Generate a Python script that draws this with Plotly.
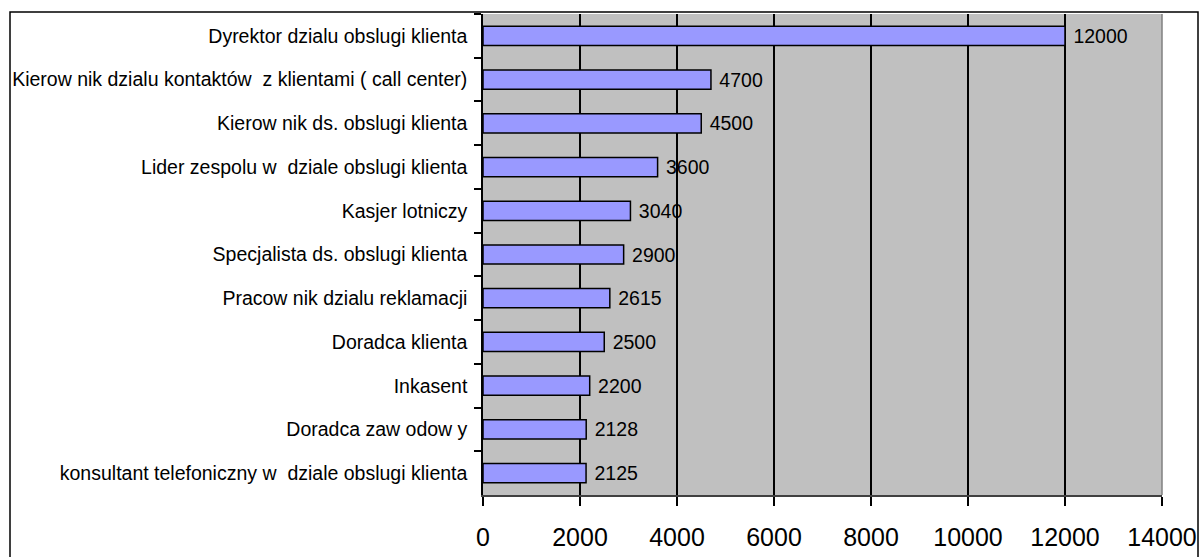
import plotly.graph_objects as go

categories = [
    "Dyrektor dzialu obslugi klienta",
    "Kierow nik dzialu kontaktów  z klientami ( call center)",
    "Kierow nik ds. obslugi klienta",
    "Lider zespolu w  dziale obslugi klienta",
    "Kasjer lotniczy",
    "Specjalista ds. obslugi klienta",
    "Pracow nik dzialu reklamacji",
    "Doradca klienta",
    "Inkasent",
    "Doradca zaw odow y",
    "konsultant telefoniczny w  dziale obslugi klienta",
]
values = [12000, 4700, 4500, 3600, 3040, 2900, 2615, 2500, 2200, 2128, 2125]
x_ticks = [0, 2000, 4000, 6000, 8000, 10000, 12000, 14000]

W, H = 1200, 557
L, R, T, B = 483, 1162, 14, 495

fig = go.Figure(go.Bar(
    y=categories, x=values, orientation="h",
    marker=dict(color="#9999FF", line=dict(color="black", width=1.5)),
    text=[" " + str(v) for v in values], textposition="outside",
    textfont=dict(family="Liberation Sans, Arial", size=19.5, color="black"),
    constraintext="none", cliponaxis=False, hoverinfo="skip",
))

fig.update_layout(
    width=W, height=H,
    margin=dict(l=L, r=W - R, t=T, b=H - B, pad=0, autoexpand=False),
    paper_bgcolor="white", plot_bgcolor="#C0C0C0",
    bargap=0.56, showlegend=False,
    font=dict(family="Liberation Sans, Arial", color="black"),
    xaxis=dict(
        range=[0, 14000], tickvals=x_ticks, ticktext=[str(t) for t in x_ticks],
        showgrid=True, gridcolor="black", gridwidth=1.5,
        ticks="outside", ticklen=9, tickcolor="black", tickwidth=1.5,
        tickfont=dict(size=25), showline=True, linecolor="#404040", linewidth=2,
        mirror=False, zeroline=False, automargin=False, ticklabelstandoff=10,
    ),
    yaxis=dict(
        autorange="reversed", type="category",
        ticks="outside", tickson="boundaries", ticklen=7, tickcolor="black", tickwidth=1.5,
        tickfont=dict(size=19.5), showline=True, linecolor="black", linewidth=1.5,
        showgrid=False, ticklabelstandoff=10, automargin=False,
    ),
    shapes=[
        dict(type="line", xref="paper", yref="paper", x0=1, x1=1, y0=0, y1=1,
             line=dict(color="#808080", width=1.5)),
        dict(type="rect", xref="paper", yref="paper",
             x0=(10 - L) / (R - L), x1=(1198 - L) / (R - L),
             y0=(B - 562) / (B - T), y1=(B - 12) / (B - T),
             line=dict(color="black", width=1.5), fillcolor="rgba(0,0,0,0)"),
    ],
)

fig.write_html(
    "out.html",
    config={"displayModeBar": False},
    post_script="document.body.style.margin='0px';document.body.style.overflow='hidden';",
)
